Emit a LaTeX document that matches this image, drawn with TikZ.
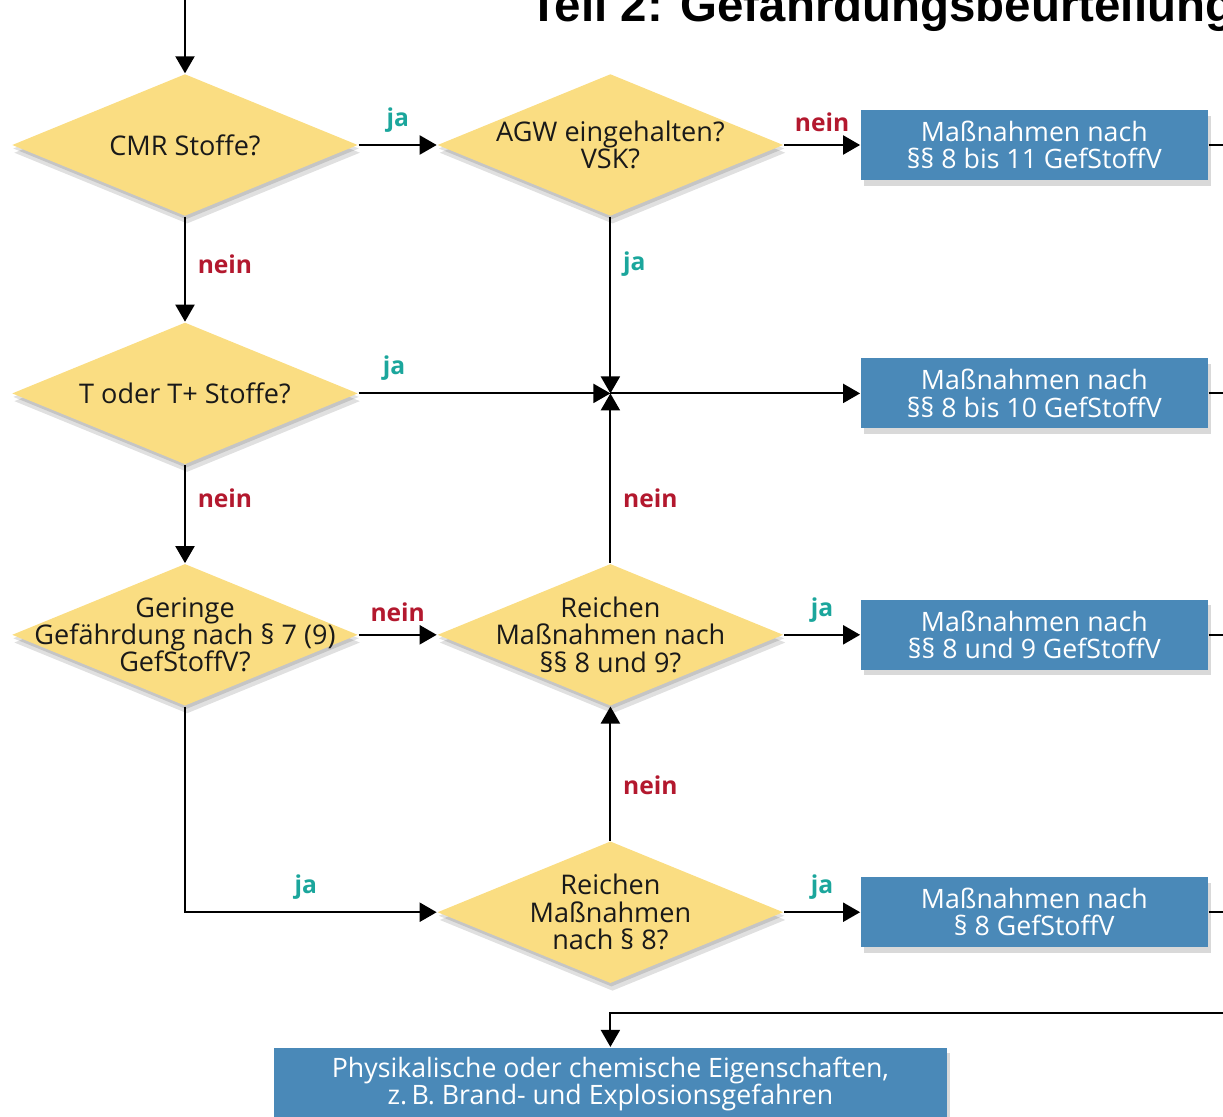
\documentclass[tikz,border=0pt]{standalone}
\usepackage{fontspec}
\setmainfont{Open Sans}
\newfontfamily\titlefont{Liberation Sans}
\usetikzlibrary{positioning, arrows.meta, shapes.geometric, shadows}

\definecolor{stepyellow}{HTML}{FADD82}
\definecolor{stepblue}{HTML}{4A89B8}
\definecolor{jagreen}{HTML}{1BA69C}
\definecolor{neinred}{HTML}{B3182E}

\begin{document}
\begin{tikzpicture}[
node distance=1cm,
auto,
decision/.style={
	diamond,
	fill=stepyellow,
	minimum width=3.46cm,
	minimum height=1.42cm,
	inner sep=0pt,
	drop shadow={shadow xshift=0.6pt, shadow yshift=-2.2pt, opacity=0.12, fill=black},
	drop shadow={shadow xshift=0.3pt, shadow yshift=-1pt, opacity=0.12, fill=black}
},
dtext/.style={
	align=center,
	text=black!90,
	inner sep=0pt,
	font=\fontsize{7.7}{7.8}\selectfont
},
measure/.style={
	rectangle,
	fill=stepblue,
	text=white,
	align=center,
	minimum width=3.47cm,
	minimum height=0.70cm,
	inner sep=0pt,
	font=\fontsize{7.6}{7.7}\selectfont,
	drop shadow={shadow xshift=1pt, shadow yshift=-1.6pt, opacity=0.15, fill=black}
},
line/.style={
	draw, line width=0.6pt, -{Triangle[length=1.7mm, width=1.9mm]}
},
stub/.style={
	draw, line width=0.6pt
},
ja/.style={text=jagreen, font=\bfseries\fontsize{7}{8}\selectfont},
nein/.style={text=neinred, font=\bfseries\fontsize{7}{8}\selectfont}
]
\useasboundingbox (0,0) rectangle (12.23,-11.17);

% Title
\node[anchor=base west, font=\titlefont\bfseries\fontsize{13.5}{14}\selectfont] (title) at (5.17,-0.21) {Teil 2: Gefährdungsbeurteilung};

% Nodes
\node[decision, label={[dtext]center:CMR Stoffe?}] (cmr) at (1.85,-1.45) {};
\node[decision, right=0.78cm of cmr, label={[dtext]center:AGW eingehalten?\\VSK?}] (agw) {};
\node[decision, below=1.05cm of cmr, label={[dtext]center:T oder T+ Stoffe?}] (tox) {};
\node[decision, below=0.98cm of tox, label={[dtext]center:Geringe\\Gefährdung nach § 7 (9)\\GefStoffV?}] (ger) {};
\node[decision, label={[dtext]center:Reichen\\Maßnahmen nach\\§§ 8 und 9?}] (r89) at (agw |- ger) {};
\node[decision, below=1.34cm of r89, label={[dtext]center:Reichen\\Maßnahmen\\nach § 8?}] (r8) {};

\node[measure, right=0.76cm of agw] (m811) {Maßnahmen nach\\§§ 8 bis 11 GefStoffV};
\node[measure] (m810) at (m811 |- tox) {Maßnahmen nach\\§§ 8 bis 10 GefStoffV};
\node[measure, right=0.76cm of r89] (m89) {Maßnahmen nach\\§§ 8 und 9 GefStoffV};
\node[measure, right=0.76cm of r8] (m8) {Maßnahmen nach\\§ 8 GefStoffV};
\node[measure, minimum width=6.73cm, minimum height=0.72cm, below=0.63cm of r8] (phys) {Physikalische oder chemische Eigenschaften,\\z.\,B. Brand- und Explosionsgefahren};

\coordinate (start) at (1.85,0.1);
\coordinate (junc) at (agw |- tox);
\coordinate (rim) at (12.4,0);
\coordinate (back) at (12.4,-10.13);

% Lines
\draw[line] (start) -- (cmr.north);
\draw[line] (cmr) -- node[ja, above]{ja} (agw);
\draw[line] (agw) -- node[nein, above]{nein} (m811);
\draw[line] (cmr) -- node[nein, right, pos=0.45]{nein} (tox);
\draw[line] (agw) -- node[ja, right, pos=0.27]{ja} (junc);
\draw[line] (tox) -- node[ja, above, pos=0.14]{ja} (junc);
\draw[line] (r89) -- node[nein, right, pos=0.38]{nein} (junc);
\draw[line] (junc) -- (m810);
\draw[line] (tox) -- node[nein, right, pos=0.34]{nein} (ger);
\draw[line] (ger) -- node[nein, above]{nein} (r89);
\draw[line] (r89) -- node[ja, above]{ja} (m89);
\draw[line] (ger) |- node[ja, above, pos=0.74]{ja} (r8);
\draw[line] (r8) -- node[nein, right, pos=0.41]{nein} (r89);
\draw[line] (r8) -- node[ja, above]{ja} (m8);

\draw[stub] (m811.east) -- (m811.east -| rim);
\draw[stub] (m810.east) -- (m810.east -| rim);
\draw[stub] (m89.east) -- (m89.east -| rim);
\draw[stub] (m8.east) -- (m8.east -| rim);
\draw[line] (back) -| (phys.north);

\end{tikzpicture}
\end{document}
